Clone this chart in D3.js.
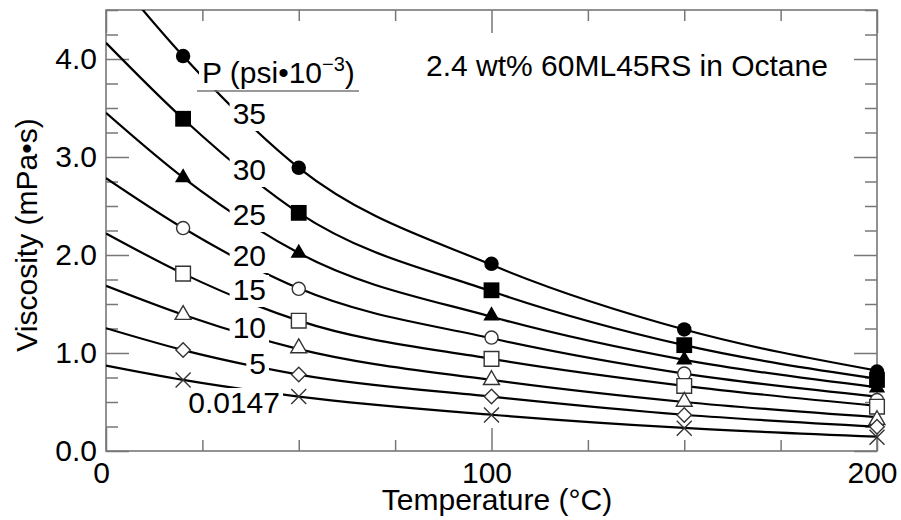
<!DOCTYPE html>
<meta charset="utf-8">
<style>

body {
  margin: 0;
  background: #fff;
  overflow: hidden;
}

svg {
  display: block;
}

text {
  font-family: "Liberation Sans", Arial, Helvetica, sans-serif;
  fill: #000;
}

.curve {
  fill: none;
  stroke: #000;
  stroke-width: 2.2px;
}

.axis line {
  stroke: #777;
  stroke-width: 1.5px;
}

.axis path {
  display: none;
}

</style>
<body>
<script src="https://d3js.org/d3.v7.min.js"></script>
<script>

// measured points, temperature in degC, viscosity in mPa s
var temps = [20, 50, 100, 150, 200];
var pressures = ["35", "30", "25", "20", "15", "10", "5", "0.0147"];

var mu35 = [4.03, 2.89, 1.91, 1.24, 0.81];
var mu30 = [3.39, 2.43, 1.64, 1.08, 0.725];
var mu25 = [2.79, 2.02, 1.38, 0.93, 0.645];
var mu20 = [2.275, 1.655, 1.157, 0.79, 0.52];
var mu15 = [1.81, 1.33, 0.94, 0.664, 0.452];
var mu10 = [1.39, 1.05, 0.725, 0.504, 0.317];
var mu5 = [1.03, 0.78, 0.555, 0.368, 0.248];
var mu0 = [0.725, 0.555, 0.368, 0.232, 0.14];

// fitted curves
var fitTemps = [0, 20, 50, 100, 150, 200];
var fit35 = [4.95, 4.03, 2.89, 1.90, 1.24, 0.82];
var fit30 = [4.165, 3.39, 2.43, 1.63, 1.08, 0.738];
var fit25 = [3.45, 2.79, 2.02, 1.37, 0.93, 0.65];
var fit20 = [2.785, 2.275, 1.66, 1.15, 0.79, 0.555];
var fit15 = [2.22, 1.81, 1.33, 0.94, 0.665, 0.46];
var fit10 = [1.685, 1.39, 1.04, 0.725, 0.50, 0.345];
var fit5 = [1.253, 1.03, 0.78, 0.555, 0.37, 0.249];
var fit0 = [0.871, 0.725, 0.555, 0.37, 0.235, 0.147];

var xMajor = [0, 100, 200];
var yMajor = [0, 1, 2, 3, 4];

var measured = [mu35, mu30, mu25, mu20, mu15, mu10, mu5, mu0];
var fits = [fit35, fit30, fit25, fit20, fit15, fit10, fit5, fit0];

var width = 901;
var height = 520;
var margin = {top: 10, right: 24, bottom: 69, left: 106};
var innerWidth = width - margin.left - margin.right;
var innerHeight = height - margin.top - margin.bottom;
var fontSize = "30px";

var xScale = d3.scaleLinear()
    .domain([0, 200])
    .range([0, innerWidth]);

var yScale = d3.scaleLinear()
    .domain([0, 4.5])
    .range([innerHeight, 0]);

// marker shapes
var diamond = {
  draw: function(context, size) {
    var r = Math.sqrt(size / 2);
    context.moveTo(0, -r);
    context.lineTo(r, 0);
    context.lineTo(0, r);
    context.lineTo(-r, 0);
    context.closePath();
  }
};

var cross = {
  draw: function(context, size) {
    var r = Math.sqrt(size) / 2;
    context.moveTo(-r, -r);
    context.lineTo(r, r);
    context.moveTo(r, -r);
    context.lineTo(-r, r);
  }
};

var shapes = [
  {type: d3.symbolCircle, size: 165, fill: "#000", stroke: "none"},
  {type: d3.symbolSquare, size: 250, fill: "#000", stroke: "none"},
  {type: d3.symbolTriangle, size: 115, fill: "#000", stroke: "none"},
  {type: d3.symbolCircle, size: 135, fill: "#fff", stroke: "#333"},
  {type: d3.symbolSquare, size: 215, fill: "#fff", stroke: "#333"},
  {type: d3.symbolTriangle, size: 110, fill: "#fff", stroke: "#333"},
  {type: diamond, size: 105, fill: "#fff", stroke: "#333"},
  {type: cross, size: 225, fill: "none", stroke: "#333"}
];

// label placement (right edge x in px, baseline y in px)
var labelPos = [
  [266, 124], [266, 180], [266, 225], [266, 266],
  [266, 300], [266, 338], [266, 374], [280, 413]
];

var svg = d3.select("body").append("svg")
    .attr("width", width)
    .attr("height", height)
  .append("g")
    .attr("transform", `translate(${margin.left}, ${margin.top})`);

svg.append("clipPath")
    .attr("id", "plot-clip")
  .append("rect")
    .attr("width", innerWidth)
    .attr("height", innerHeight);

// axes: major + minor ticks on all four sides, pointing inward
var fmtY = d3.format(".1f");
var xMinor = d3.range(0, 201, 25).filter(d => xMajor.indexOf(d) < 0);
var yMinor = d3.range(0, 4.51, 0.25).filter(d => d % 1 !== 0);

svg.append("g")
    .attr("class", "axis")
    .attr("transform", `translate(0, ${innerHeight})`)
    .call(d3.axisBottom(xScale).tickValues(xMajor).tickSize(-23).tickPadding(11));

svg.append("g")
    .attr("class", "axis")
    .attr("transform", `translate(0, ${innerHeight})`)
    .call(d3.axisBottom(xScale).tickValues(xMinor).tickSize(-11).tickFormat(""));

svg.append("g")
    .attr("class", "axis")
    .call(d3.axisTop(xScale).tickValues(xMajor).tickSize(-23).tickFormat(""));

svg.append("g")
    .attr("class", "axis")
    .call(d3.axisTop(xScale).tickValues(xMinor).tickSize(-11).tickFormat(""));

svg.append("g")
    .attr("class", "axis")
    .call(d3.axisLeft(yScale).tickValues(yMajor).tickSize(-23).tickPadding(9).tickFormat(fmtY));

svg.append("g")
    .attr("class", "axis")
    .call(d3.axisLeft(yScale).tickValues(yMinor).tickSize(-12).tickFormat(""));

svg.append("g")
    .attr("class", "axis")
    .attr("transform", `translate(${innerWidth}, 0)`)
    .call(d3.axisRight(yScale).tickValues(yMajor).tickSize(-23).tickFormat(""));

svg.append("g")
    .attr("class", "axis")
    .attr("transform", `translate(${innerWidth}, 0)`)
    .call(d3.axisRight(yScale).tickValues(yMinor).tickSize(-12).tickFormat(""));

svg.selectAll(".axis text")
    .style("font-size", fontSize)
    .style("font-family", "'Liberation Sans', Arial, sans-serif")
    .attr("fill", "#000");

svg.selectAll(".axis text")
    .filter(function() { return this.getAttribute("y") > 0; })
    .attr("dx", -5);

svg.append("rect")
    .attr("width", innerWidth)
    .attr("height", innerHeight)
    .attr("fill", "none")
    .attr("stroke", "#777")
    .attr("stroke-width", 1.6);

// fitted curves
var line = d3.line()
    .x((d, i) => xScale(fitTemps[i]))
    .y(d => yScale(d))
    .curve(d3.curveMonotoneX);

svg.append("g")
    .attr("clip-path", "url(#plot-clip)")
  .selectAll("path")
    .data(fits)
  .enter().append("path")
    .attr("class", "curve")
    .attr("d", d => line(d));

// pressure labels, each with a white patch that breaks the curve
function patch(g) {
  var bb = g.select("text").node().getBBox();
  g.insert("rect", "text")
      .attr("x", bb.x - 3)
      .attr("y", bb.y + 2)
      .attr("width", bb.width + 6)
      .attr("height", bb.height - 1)
      .attr("fill", "#fff");
}

pressures.forEach(function(p, i) {
  var g = svg.append("g");
  g.append("text")
      .attr("x", labelPos[i][0] - margin.left)
      .attr("y", labelPos[i][1] - margin.top)
      .attr("text-anchor", "end")
      .style("font-size", fontSize)
      .text(p);
  patch(g);
});

var head = svg.append("g");
var headText = head.append("text")
    .attr("x", 202 - margin.left)
    .attr("y", 83 - margin.top)
    .style("font-size", fontSize);
headText.append("tspan").text("P (psi\u202210");
headText.append("tspan")
    .attr("dy", -12)
    .style("font-size", "20px")
    .text("\u22123");
headText.append("tspan")
    .attr("dy", 12)
    .text(")");
patch(head);

head.append("line")
    .attr("x1", 197 - margin.left)
    .attr("x2", 359 - margin.left)
    .attr("y1", 91 - margin.top)
    .attr("y2", 91 - margin.top)
    .attr("stroke", "#777")
    .attr("stroke-width", 1.5);

// measured points
measured.forEach(function(series, i) {
  var s = shapes[i];
  svg.append("g")
    .selectAll("path")
      .data(series)
    .enter().append("path")
      .attr("transform", (d, j) => `translate(${xScale(temps[j])}, ${yScale(d)})`)
      .attr("d", d3.symbol().type(s.type).size(s.size))
      .attr("fill", s.fill)
      .attr("stroke", s.stroke)
      .attr("stroke-width", 1.4);
});

// titles
svg.append("text")
    .attr("x", 627 - margin.left)
    .attr("y", 76 - margin.top)
    .attr("text-anchor", "middle")
    .style("font-size", fontSize)
    .text("2.4 wt% 60ML45RS in Octane");

svg.append("text")
    .attr("x", 497 - margin.left)
    .attr("y", 510 - margin.top)
    .attr("text-anchor", "middle")
    .style("font-size", fontSize)
    .text("Temperature (\u00B0C)");

svg.append("text")
    .attr("transform", `translate(${37 - margin.left}, ${235 - margin.top}) rotate(-90)`)
    .attr("text-anchor", "middle")
    .style("font-size", fontSize)
    .text("Viscosity (mPa\u2022s)");

</script>
